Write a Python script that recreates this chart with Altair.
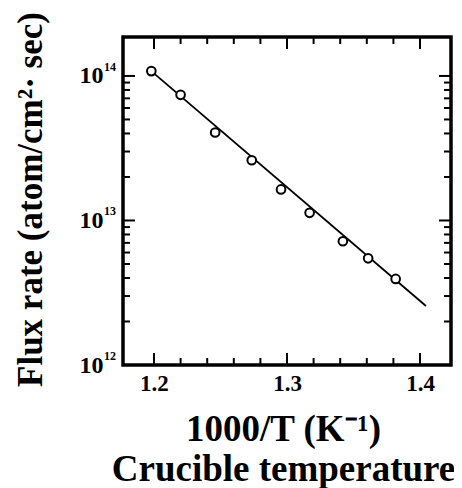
import altair as alt
import pandas as pd

# Measured data (1000/T in 1/K, flux in atom/cm^2/s)
inv_t = [1.198, 1.220, 1.246, 1.2735, 1.2955, 1.317, 1.342, 1.361, 1.3817]
flux = [1.08e14, 7.4e13, 4.06e13, 2.61e13, 1.64e13, 1.13e13, 7.18e12, 5.47e12, 3.94e12]

# Fitted line end points
fit_x = [1.198, 1.4045]
fit_y = [1.08e14, 2.56e12]

# Tick values
x_major = [1.2, 1.3, 1.4]
x_minor = [1.22, 1.24, 1.26, 1.28, 1.32, 1.34, 1.36, 1.38]
y_major = [1e12, 1e13, 1e14]
y_exp = ["12", "13", "14"]
y_minor = [m * 10 ** e for e in (12, 13) for m in range(2, 10)]

W, H = 328, 328
FONT = "Liberation Serif"
MAJ, MIN = 12, 7

xscale = alt.Scale(domain=[1.1767, 1.4233], nice=False, zero=False)
yscale = alt.Scale(type="log", domain=[1e12, 1.86e14], nice=False)

x_axis = alt.Axis(
    values=x_major, format=".1f", grid=False, ticks=False, tickSize=0, domain=False,
    labelFont=FONT, labelFontWeight="bold", labelFontSize=23, labelColor="black",
    labelPadding=7,
    title=["1000/T (K\u207b\u00b9)", "Crucible temperature"],
    titleFont=FONT, titleFontWeight="bold", titleFontSize=37, titleColor="black",
    titleX=160, titleY=75, titleBaseline="alphabetic", titleLineHeight=40,
    titleAlign="center",
)
y_axis = alt.Axis(
    values=y_major, labelExpr="'10'", grid=False, ticks=False, tickSize=0, domain=False,
    labelFont=FONT, labelFontWeight="bold", labelFontSize=24, labelColor="black",
    labelPadding=20,
    title="Flux rate (atom/cm\u00b2\u00b7 sec)",
    titleFont=FONT, titleFontWeight="bold", titleFontSize=35, titleColor="black",
    titleX=-93, titleY=162, titleAngle=-90, titleBaseline="middle", titleAlign="center",
)

pts = pd.DataFrame({"x": inv_t, "y": flux})
fit = pd.DataFrame({"x": fit_x, "y": fit_y})

points = alt.Chart(pts).mark_point(
    shape="circle", filled=True, fill="white", stroke="black", strokeWidth=2,
    size=75, opacity=1
).encode(
    x=alt.X("x:Q", scale=xscale, axis=x_axis),
    y=alt.Y("y:Q", scale=yscale, axis=y_axis),
)
line = alt.Chart(fit).mark_line(color="black", strokeWidth=1.8).encode(
    x=alt.X("x:Q"), y=alt.Y("y:Q")
)

def xticks(vals, length):
    d = pd.DataFrame({"x": vals})
    bot = alt.Chart(d).mark_rule(color="black", strokeWidth=2).encode(
        x="x:Q", y=alt.value(H), y2=alt.value(H - length))
    top = alt.Chart(d).mark_rule(color="black", strokeWidth=2).encode(
        x="x:Q", y=alt.value(0), y2=alt.value(length))
    return [bot, top]

def yticks(vals, length):
    d = pd.DataFrame({"y": vals})
    left = alt.Chart(d).mark_rule(color="black", strokeWidth=2).encode(
        y="y:Q", x=alt.value(0), x2=alt.value(length))
    right = alt.Chart(d).mark_rule(color="black", strokeWidth=2).encode(
        y="y:Q", x=alt.value(W), x2=alt.value(W - length))
    return [left, right]

exps = alt.Chart(pd.DataFrame({"y": y_major, "e": y_exp})).mark_text(
    align="left", baseline="middle", dx=-19, dy=-9, font=FONT, fontWeight="bold",
    fontSize=12, color="black"
).encode(y="y:Q", x=alt.value(0), text="e:N")

layers = (xticks(x_major, MAJ) + xticks(x_minor, MIN) +
          yticks(y_major, MAJ) + yticks(y_minor, MIN) + [line, points, exps])

chart = alt.layer(*layers).properties(
    width=W, height=H,
    background="white",
    autosize=alt.AutoSizeParams(type="none"),
    padding={"left": 115, "top": 29, "right": 3, "bottom": 123},
).configure_view(stroke="black", strokeWidth=3.5)

chart.save("out.html", embed_options={"renderer": "svg", "actions": False})
